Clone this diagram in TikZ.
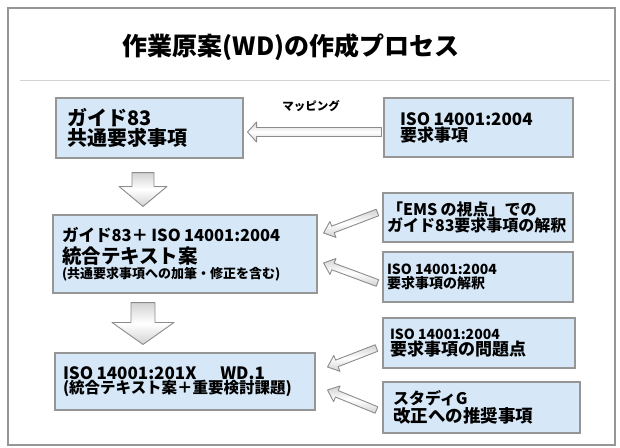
\documentclass[tikz,border=0pt]{standalone}
\usepackage{fontspec}
\setmainfont{Noto Sans CJK JP}
\usetikzlibrary{calc}
\definecolor{boxblue}{RGB}{214,232,248}
\definecolor{framegray}{RGB}{150,150,150}
\definecolor{arrgray}{RGB}{140,140,140}
\newcommand\blkarrow[6][]{%
  \pgfpointdiff{\pgfpointanchor{#2}{center}}{\pgfpointanchor{#3}{center}}%
  \pgfgetlastxy\bax\bay
  \pgfmathsetmacro\baang{atan2(\bay,\bax)}%
  \pgfmathsetmacro\balen{veclen(\bax,\bay)}%
  \begin{scope}[shift={(#2)}, x=1pt, y=1pt, rotate=\baang]
    \draw[blockarr,#1] (0,-#4) -- (\balen-#6,-#4) -- (\balen-#6,-#5) -- (\balen,0)
      -- (\balen-#6,#5) -- (\balen-#6,#4) -- (0,#4) -- cycle;
  \end{scope}}
\begin{document}
\begin{tikzpicture}[x=1pt,y=-1pt,
  box/.style={draw=framegray, line width=1.1pt, fill=boxblue, align=left,
    inner ysep=0pt, font=\bfseries},
  blockarr/.style={draw=arrgray, line width=0.9pt, line join=round,
    top color=gray!35, bottom color=gray!35, middle color=white},
  lbl/.style={font=\bfseries\fontsize{11.5}{13}\selectfont, inner sep=0pt}]
\useasboundingbox (0,0) rectangle (620,447);
\fill[white] (0,0) rectangle (620,447);
\draw[framegray, line width=1.2pt] (8,8) rectangle (615,445);
\draw[gray!35, line width=1pt] (20,80) -- (610,80);
\node[font=\bfseries\fontsize{25}{30}\selectfont, inner sep=0pt] (title) at (291,47) {作業原案(WD)の作成プロセス};

% boxes
\node[box, text width=165pt, inner xsep=11pt, minimum height=60pt] (A) at (149.5,128)
  {\fontsize{20}{25}\selectfont ガイド83\\共通要求事項};
\node[box, text width=157pt, inner xsep=16pt, minimum height=59pt] (B) at (478.5,127.5)
  {\fontsize{17}{23}\selectfont ISO 14001:2004\\要求事項};
\node[box, text width=246pt, inner xsep=9pt, minimum height=78pt] (C) at (185,254)
  {\fontsize{16.5}{22}\selectfont ガイド83＋ ISO 14001:2004\\{\fontsize{19.5}{22}\selectfont 統合テキスト案}\\[1pt]{\fontsize{13}{16}\selectfont (共通要求事項への加筆・修正を含む)}};
\node[box, text width=182pt, inner xsep=4pt, minimum height=49pt] (D) at (478,217.5)
  {\fontsize{16}{21}\selectfont 「EMS の視点」での\\ガイド83要求事項の解釈};
\node[box, text width=182pt, inner xsep=4pt, minimum height=50pt] (E) at (478,277)
  {\fontsize{14}{20}\selectfont ISO 14001:2004\\要求事項の解釈};
\node[box, text width=244pt, inner xsep=8pt, minimum height=57pt] (F) at (185,381.5)
  {\fontsize{17}{24}\selectfont ISO 14001:201X\hspace{1.4em}WD.1\\{\fontsize{15.5}{18}\selectfont (統合テキスト案＋重要検討課題)}};
\node[box, text width=178pt, inner xsep=7pt, minimum height=50pt] (G) at (479,343)
  {\fontsize{14}{21}\selectfont ISO 14001:2004\\{\fontsize{17}{21}\selectfont 要求事項の問題点}};
\node[box, text width=177pt, inner xsep=10pt, minimum height=51pt] (H) at (481.5,407.5)
  {\fontsize{16}{22}\selectfont スタディG\\{\fontsize{17.5}{22}\selectfont 改正への推奨事項}};

% connector end points
\coordinate (hS) at ($(B.west)+(-2,4.5)$);
\coordinate (hE) at ($(A.east)+(4,4)$);
\coordinate (d1S) at ($(A.south)+(-6.5,14)$);
\coordinate (d1E) at ($(C.north)+(-42,-8)$);
\coordinate (d2S) at ($(C.south)+(-42,9)$);
\coordinate (d2E) at ($(F.north)+(-42,-8)$);
\coordinate (dS) at ($(D.west)+(-5,-5)$);
\coordinate (dE) at ($(C.east)+(6,-21)$);
\coordinate (eS) at ($(E.west)+(-5,6)$);
\coordinate (eE) at ($(C.east)+(6,9)$);
\coordinate (gS) at ($(G.west)+(-6,5)$);
\coordinate (gE) at ($(F.east)+(12,-14.5)$);
\coordinate (kS) at ($(H.west)+(-6,2.5)$);
\coordinate (kE) at ($(F.east)+(12,8.5)$);

% arrows
\blkarrow{hS}{hE}{4.5}{10}{9}
\node[lbl] (map) at (311,106) {マッピング};
\blkarrow{d1S}{d1E}{11}{24}{20}
\blkarrow{d2S}{d2E}{12}{31}{22}
\blkarrow{dS}{dE}{3.5}{8.5}{10}
\blkarrow{eS}{eE}{3.5}{8.5}{10}
\blkarrow{gS}{gE}{3.5}{8.5}{10}
\blkarrow{kS}{kE}{3.5}{8.5}{10}
\end{tikzpicture}
\end{document}
